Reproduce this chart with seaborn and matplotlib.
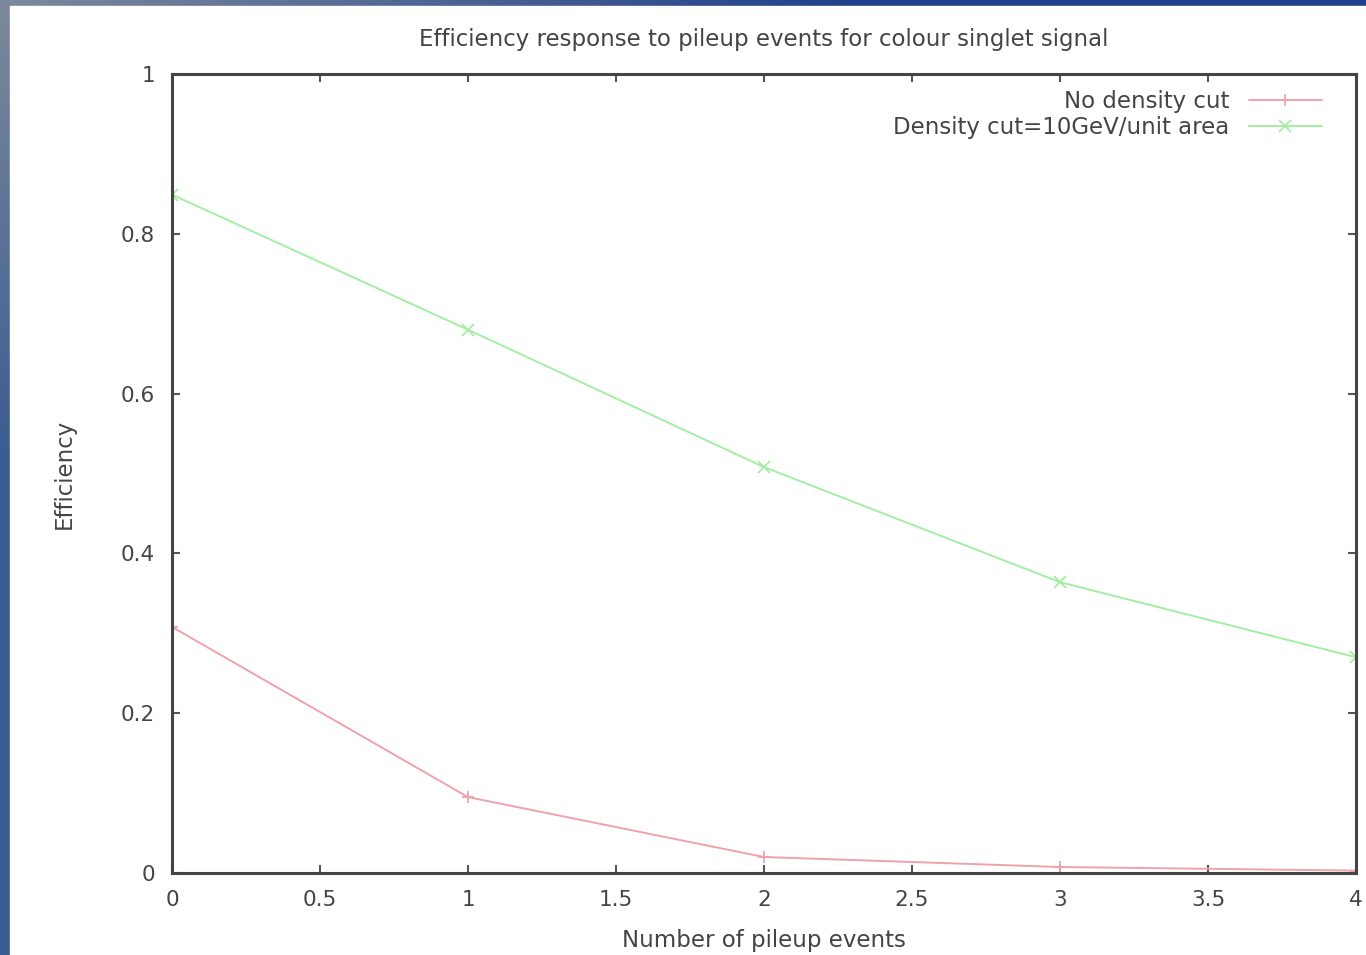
import numpy as np
import pandas as pd
import matplotlib
matplotlib.use("Agg")
import matplotlib.pyplot as plt
import seaborn as sns

# ---- data ----
pileup = [0, 1, 2, 3, 4]
no_cut = [0.308, 0.095, 0.020, 0.0075, 0.003]
density_cut = [0.849, 0.680, 0.508, 0.364, 0.270]
series_names = ["No density cut", "Density cut=10GeV/unit area"]
x_ticks = [0, 0.5, 1, 1.5, 2, 2.5, 3, 3.5, 4]
x_tick_labels = ["0", "0.5", "1", "1.5", "2", "2.5", "3", "3.5", "4"]
y_ticks = [0, 0.2, 0.4, 0.6, 0.8, 1.0]
y_tick_labels = ["0", "0.2", "0.4", "0.6", "0.8", "1"]

df = pd.DataFrame({
    "pileup": pileup * 2,
    "eff": no_cut + density_cut,
    "series": [series_names[0]] * len(pileup) + [series_names[1]] * len(pileup),
})

sns.set_theme(style="white")
plt.rcParams["font.family"] = ["DejaVu Sans"]

W, H = 1366, 955
fig = plt.figure(figsize=(W / 100, H / 100), dpi=100)

# background gradient border
bg = fig.add_axes([0, 0, 1, 1], zorder=-10)
yy, xx = np.mgrid[0:1:200j, 0:1:300j]
d = np.clip(np.sqrt((xx * 1.0) ** 2 + (yy * 1.3) ** 2), 0, 1)
gray = np.array([0.49, 0.54, 0.61])
blue_l = np.array([0.23, 0.36, 0.57])
blue_t = np.array([0.13, 0.25, 0.55])
wt = xx / (xx + yy + 1e-9)
blue = blue_l[None, None, :] * (1 - wt[..., None]) + blue_t[None, None, :] * wt[..., None]
t = np.clip(d * 1.6, 0, 1)[..., None]
img = gray[None, None, :] * (1 - t) + blue * t
bg.imshow(img, extent=[0, 1, 0, 1], aspect="auto", origin="upper")
bg.add_patch(plt.Rectangle((10 / W, 0), 1, 1 - 6 / H, color="white", transform=bg.transAxes))
bg.set_xlim(0, 1)
bg.set_ylim(0, 1)
bg.axis("off")

ax = fig.add_axes([172 / W, (H - 873) / H, (1356 - 172) / W, (873 - 74) / H])
ax.set_facecolor("white")

colors = ["#f0a2aa", "#a4eea4"]
palette = {series_names[0]: colors[0], series_names[1]: colors[1]}
sns.lineplot(data=df, x="pileup", y="eff", hue="series", style="series",
             palette=palette, markers={series_names[0]: "+", series_names[1]: "x"},
             dashes=False, linewidth=1.4, markersize=8, markeredgewidth=1.3,
             ax=ax, legend=True)
for ln in ax.get_lines():
    ln.set_markeredgecolor(ln.get_color())

ax.set_xlim(0, 4)
ax.set_ylim(0, 1)
ax.set_xticks(x_ticks)
ax.set_xticklabels(x_tick_labels)
ax.set_yticks(y_ticks)
ax.set_yticklabels(y_tick_labels)
ax.tick_params(direction="in", length=6, width=1.5, color="#555555",
               top=True, right=True, bottom=True, left=True,
               labelsize=15.5, labelcolor="#444444", pad=12)
for s in ax.spines.values():
    s.set_visible(True)
    s.set_color("#444444")
    s.set_linewidth(2.2)

FS = 16.5
ax.set_xlabel("Number of pileup events", fontsize=FS, color="#444444", labelpad=14)
ax.set_ylabel("Efficiency", fontsize=FS, color="#444444", labelpad=33)
ax.set_title("Efficiency response to pileup events for colour singlet signal",
             fontsize=FS, color="#444444", pad=20)

leg = ax.legend(loc="upper right", bbox_to_anchor=(0.979, 0.992), frameon=False,
                markerfirst=False, fontsize=FS, handlelength=3.2, borderaxespad=0,
                labelspacing=0.15, handletextpad=0.85)
for txt in leg.get_texts():
    txt.set_color("#444444")
for h in leg.legend_handles:
    h.set_markeredgecolor(h.get_color())

fig.savefig("out.png", dpi=100, facecolor="white")
